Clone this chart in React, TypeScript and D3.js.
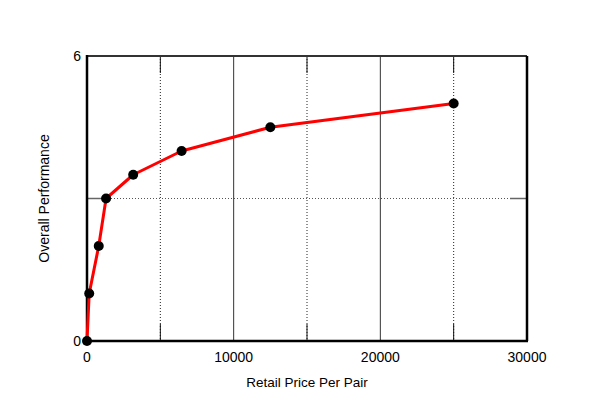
import React from 'react';
import * as d3 from 'd3';

// Retail price vs overall performance
const prices = [0, 150, 800, 1300, 3150, 6450, 12500, 25000];
const performance = [0, 1, 2, 3, 3.5, 4, 4.5, 5];

const majorXTicks = [0, 10000, 20000, 30000];
const minorXTicks = [5000, 15000, 25000];
const yTickLabels = [0, 6];
const yGridTicks = [3];

const width = 600;
const height = 406;
const margin = { top: 56, right: 73, bottom: 65, left: 87 };
const font = 'Liberation Sans, Arial, sans-serif';

export default function App() {
  const innerW = width - margin.left - margin.right;
  const innerH = height - margin.top - margin.bottom;

  const x = d3.scaleLinear().domain([0, 30000]).range([margin.left, margin.left + innerW]);
  const y = d3.scaleLinear().domain([0, 6]).range([margin.top + innerH, margin.top]);

  const data = prices.map((p, i) => ({ p, v: performance[i] }));
  const line = d3.line<{ p: number; v: number }>()
    .x(d => x(d.p))
    .y(d => y(d.v));

  const x0 = x(0);
  const x1 = x(30000);
  const y0 = y(0);
  const y1 = y(6);
  const stub = 17;

  return (
    <div style={{ position: 'fixed', left: 0, top: 0 }}>
      <svg width={width} height={height} style={{ display: 'block', background: '#fff' }}>
        {/* minor vertical grid: dotted with solid stubs */}
        {minorXTicks.map(t => (
          <g key={'mx' + t}>
            <line x1={x(t)} x2={x(t)} y1={y1} y2={y0} stroke="#222" strokeWidth={1} strokeDasharray="1,2" />
            <line x1={x(t)} x2={x(t)} y1={y0} y2={y0 - stub} stroke="#111" strokeWidth={1} />
            <line x1={x(t)} x2={x(t)} y1={y1} y2={y1 + stub} stroke="#111" strokeWidth={1} />
          </g>
        ))}
        {/* major vertical grid */}
        {majorXTicks.filter(t => t > 0 && t < 30000).map(t => (
          <line key={'Mx' + t} x1={x(t)} x2={x(t)} y1={y1} y2={y0} stroke="#333" strokeWidth={1} />
        ))}
        {/* horizontal grid */}
        {yGridTicks.map(t => (
          <g key={'gy' + t}>
            <line x1={x0} x2={x1} y1={y(t)} y2={y(t)} stroke="#555" strokeWidth={1} strokeDasharray="1,2" />
            <line x1={x0} x2={x0 + stub} y1={y(t)} y2={y(t)} stroke="#666" strokeWidth={1.5} />
            <line x1={x1 - stub} x2={x1} y1={y(t)} y2={y(t)} stroke="#666" strokeWidth={1.5} />
          </g>
        ))}
        {/* frame */}
        <line x1={x0} x2={x1} y1={y1} y2={y1} stroke="#333" strokeWidth={2} />
        <line x1={x1} x2={x1} y1={y1} y2={y0} stroke="#000" strokeWidth={2.5} />
        <line x1={x0} x2={x0} y1={y1 - 1} y2={y0} stroke="#000" strokeWidth={2.5} />
        <line x1={x0} x2={x1 + 1} y1={y0} y2={y0} stroke="#000" strokeWidth={2.5} />

        {/* series */}
        <path d={line(data) || ''} fill="none" stroke="#ff0000" strokeWidth={3} strokeLinejoin="round" />
        {data.map((d, i) => (
          <circle key={i} cx={x(d.p)} cy={y(d.v)} r={5} fill="#000" />
        ))}

        {/* tick labels */}
        {majorXTicks.map(t => (
          <text key={'xl' + t} x={x(t)} y={y0 + 21} textAnchor="middle" fontFamily={font} fontSize={14} fill="#000">
            {t}
          </text>
        ))}
        {yTickLabels.map(t => (
          <text key={'yl' + t} x={x0 - 6} y={y(t) + 5} textAnchor="end" fontFamily={font} fontSize={14} fill="#000">
            {t}
          </text>
        ))}

        {/* axis titles */}
        <text x={(x0 + x1) / 2} y={y0 + 46} textAnchor="middle" fontFamily={font} fontSize={13.5} fill="#000">
          Retail Price Per Pair
        </text>
        <text
          transform={`translate(${x0 - 38},${(y0 + y1) / 2}) rotate(-90)`}
          textAnchor="middle"
          fontFamily={font}
          fontSize={14}
          fill="#000"
        >
          Overall Performance
        </text>
      </svg>
    </div>
  );
}
